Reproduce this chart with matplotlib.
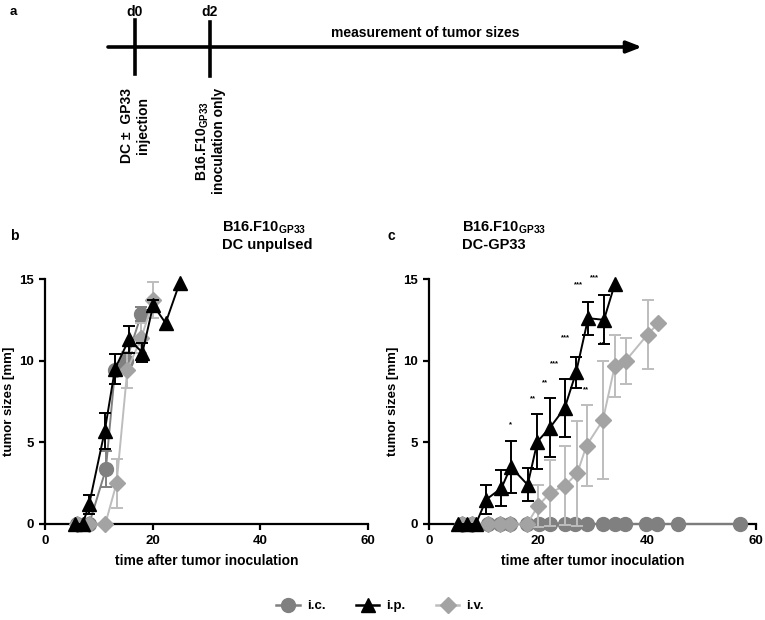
import matplotlib
matplotlib.use('Agg')
import matplotlib.pyplot as plt
from matplotlib.lines import Line2D

plt.rcParams['font.family'] = ['Liberation Sans', 'DejaVu Sans']
plt.rcParams['font.weight'] = 'bold'
plt.rcParams['mathtext.fontset'] = 'custom'
plt.rcParams['mathtext.bf'] = 'Liberation Sans:bold'
plt.rcParams['mathtext.rm'] = 'Liberation Sans:bold'

# panel b: DC unpulsed
ic_b_x = [6.0, 8.2, 11.3, 13.0, 15.1, 17.9]
ic_b_y = [0, 0, 3.35, 9.4, 10.0, 12.85]
ic_b_err = [0, 0, 1.1, 0, 0.4, 0.45]
ip_b_x = [5.6, 7.0, 8.2, 11.1, 13.0, 15.6, 18.1, 20.1, 22.4, 25.0]
ip_b_y = [0, 0, 1.2, 5.7, 9.5, 11.3, 10.5, 13.4, 12.3, 14.75]
ip_b_err = [0, 0, 0.6, 1.1, 0.9, 0.8, 0.6, 0.3, 0, 0]
iv_b_x = [6.0, 8.2, 11.2, 13.3, 15.3, 17.9, 20.1]
iv_b_y = [0, 0, 0, 2.5, 9.45, 11.4, 13.7]
iv_b_err = [0, 0, 0, 1.5, 1.1, 0.9, 1.1]

# panel c: DC-GP33
ic_c_x = [6.0, 7.8, 10.9, 13.0, 14.9, 18.0, 20.1, 22.2, 25.0, 26.8, 28.9,
          31.9, 34.1, 36.0, 39.9, 41.9, 45.7, 57.1]
ic_c_y = [0] * 18
ip_c_x = [5.3, 7.0, 8.6, 10.5, 13.3, 15.0, 18.1, 19.9, 22.2, 24.9, 27.0,
          29.2, 32.1, 34.1]
ip_c_y = [0, 0, 0, 1.5, 2.2, 3.5, 2.4, 5.05, 5.9, 7.1, 9.3, 12.6, 12.5, 14.7]
ip_c_err = [0, 0, 0, 0.9, 1.1, 1.6, 1.0, 1.7, 1.8, 1.8, 0.95, 1.0, 1.5, 0]
iv_c_x = [6.0, 7.8, 10.9, 13.0, 14.9, 18.0, 20.0, 22.2, 24.9, 27.2, 28.9,
          31.9, 34.1, 36.1, 40.1, 42.1]
iv_c_y = [0, 0, 0, 0, 0, 0, 1.1, 1.9, 2.35, 3.1, 4.8, 6.35, 9.7, 10.0, 11.6, 12.3]
iv_c_err = [0, 0, 0, 0, 0, 0, 1.3, 2.0, 2.4, 3.2, 2.5, 3.6, 1.9, 1.4, 2.1, 0]

# significance marks (day, height, label)
star_x = [14.9, 19.1, 21.3, 23.1, 25.0, 27.5, 30.3, 31.7, 28.75]
star_y = [6.1, 7.65, 8.65, 9.84, 11.4, 14.65, 15.05, 11.0, 8.2]
star_txt = ['*', '**', '**', '***', '***', '***', '***', '**', '**']

W, H = 765, 620
fig = plt.figure(figsize=(W / 100, H / 100), dpi=100)

def fx(x):
    return x / W

def fy(y):
    return 1 - y / H

IC_C = '#808080'
IV_C = '#a3a3a3'
IV_L = '#bdbdbd'

def series(ax, x, y, err, marker, mcol, lcol, ecol, ms, z):
    ax.plot(x, y, '-', color=lcol, lw=1.4, marker=marker, mfc=mcol, mec=mcol,
            ms=ms, zorder=z)
    ex = [a for a, e in zip(x, err) if e > 0]
    ey = [b for b, e in zip(y, err) if e > 0]
    ee = [e for e in err if e > 0]
    if ex:
        ax.errorbar(ex, ey, yerr=ee, fmt='none', ecolor=ecol, elinewidth=1.4,
                    capsize=4.5, capthick=1.4, zorder=z - 0.5)

def panel(rect, ic, ip, iv):
    ax = fig.add_axes(rect)
    series(ax, *ic, 'o', IC_C, IC_C, IC_C, 10, 3)
    series(ax, *iv, 'D', IV_C, IV_L, IV_L, 8, 4)
    series(ax, *ip, '^', 'black', 'black', 'black', 10.5, 5)
    ax.set_xlim(0, 60)
    ax.set_ylim(0, 15)
    ax.set_xticks([0, 20, 40, 60])
    ax.set_yticks([0, 5, 10, 15])
    for s in ['top', 'right']:
        ax.spines[s].set_visible(False)
    for s in ['left', 'bottom']:
        ax.spines[s].set_linewidth(1.6)
    ax.tick_params(direction='out', length=4, width=1.6, labelsize=9.5, pad=4)
    ax.set_xlabel('time after tumor inoculation', fontsize=10, fontweight='bold', labelpad=5)
    ax.set_ylabel('tumor sizes [mm]', fontsize=9.5, fontweight='bold', labelpad=3)
    for a in ax.get_children():
        a.set_clip_on(False)
    return ax

top_px, bot_px = 279, 524
bot = fy(bot_px)
hgt = (bot_px - top_px) / H
axb = panel([fx(45), bot, (368 - 45) / W, hgt],
            (ic_b_x, ic_b_y, ic_b_err), (ip_b_x, ip_b_y, ip_b_err),
            (iv_b_x, iv_b_y, iv_b_err))
axc = panel([fx(429), bot, (756 - 429) / W, hgt],
            (ic_c_x, ic_c_y, [0] * len(ic_c_x)), (ip_c_x, ip_c_y, ip_c_err),
            (iv_c_x, iv_c_y, iv_c_err))
for sx, sy, st in zip(star_x, star_y, star_txt):
    axc.text(sx, sy, st, fontsize=5.5, ha='center', va='center')

# titles and panel letters
fig.text(fx(10), fy(236), 'b', fontsize=10, va='center')
fig.text(fx(388), fy(236), 'c', fontsize=10, va='center')
fig.text(fx(222), fy(236), 'B16.F10$_{\\mathbf{GP33}}$\nDC unpulsed', fontsize=10.5,
         va='center', ha='left', linespacing=1.2)
fig.text(fx(462), fy(236), 'B16.F10$_{\\mathbf{GP33}}$\nDC-GP33', fontsize=10.5,
         va='center', ha='left', linespacing=1.2)

# panel a: timeline schematic
ov = fig.add_axes([0, 0, 1, 1])
ov.set_xlim(0, W)
ov.set_ylim(H, 0)
ov.axis('off')
ov.annotate('', xy=(642, 47), xytext=(108, 47),
            arrowprops=dict(arrowstyle='-|>,head_length=0.9,head_width=0.35',
                            lw=2.6, color='black', shrinkA=0, shrinkB=0))
ov.plot([135, 135], [20, 74], color='black', lw=2.6)
ov.plot([210, 210], [22, 76], color='black', lw=2.6)
ov.text(10, 12, 'a', fontsize=9.5, va='center')
ov.text(135, 12, 'd0', fontsize=10, ha='center', va='center')
ov.text(210, 12, 'd2', fontsize=10, ha='center', va='center')
ov.text(425, 33, 'measurement of tumor sizes', fontsize=10, ha='center', va='center')
ov.text(135, 88, 'DC \u00b1  GP33\ninjection', fontsize=10, rotation=90,
        ha='center', va='top', multialignment='center', linespacing=1.1)
ov.text(210, 88, 'B16.F10$_{\\mathbf{GP33}}$\ninoculation only', fontsize=10,
        rotation=90, ha='center', va='top', multialignment='center', linespacing=1.1)

handles = [
    Line2D([], [], color=IC_C, marker='o', ms=10, lw=1.8),
    Line2D([], [], color='black', marker='^', ms=10.5, lw=1.8),
    Line2D([], [], color=IV_L, marker='D', mfc=IV_C, mec=IV_C, ms=8, lw=1.8),
]
fig.legend(handles, ['i.c.', 'i.p.', 'i.v.'], loc='center', ncol=3,
           bbox_to_anchor=(fx(380), fy(606)), frameon=False, fontsize=9.5,
           handlelength=1.8, columnspacing=2.3, handletextpad=0.5)

fig.savefig('out.png', dpi=100)
